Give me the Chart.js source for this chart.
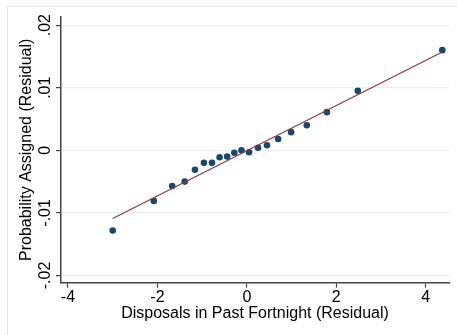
<!DOCTYPE html>
<html lang="en">
<head>
  <meta charset="UTF-8">
  <title>Disposals vs Probability Assigned</title>
  <script src="https://cdn.jsdelivr.net/npm/chart.js"></script>
  <style>
    html, body { margin: 0; padding: 0; background: #fff; }
  </style>
</head>
<body>
  <canvas id="residChart" width="457" height="335"></canvas>

  <script>
    // binned residuals
    const disposalsResid = [-3.00, -2.08, -1.67, -1.39, -1.16, -0.96, -0.78, -0.61, -0.44, -0.28,
                            -0.12, 0.05, 0.25, 0.45, 0.70, 0.99, 1.34, 1.79, 2.48, 4.37];
    const probResid = [-0.0128, -0.0081, -0.0057, -0.0050, -0.0031, -0.0020, -0.0020, -0.0011, -0.0010, -0.0004,
                       0.0000, -0.0003, 0.0004, 0.0008, 0.0018, 0.0029, 0.0040, 0.0061, 0.0095, 0.0160];
    // fitted line end points
    const fitX = [-3.00, 4.37];
    const fitY = [-0.0109, 0.0157];
    const xTicks = [-4, -2, 0, 2, 4];
    const yTicks = [-0.02, -0.01, 0, 0.01, 0.02];
    const yTickLabels = ['-.02', '-.01', '0', '.01', '.02'];

    const FONT = "'Liberation Sans', Arial, sans-serif";

    // stata draws y labels turned on their side
    const rotatedYLabels = {
      id: 'rotatedYLabels',
      afterDraw(chart) {
        const ctx = chart.ctx;
        const y = chart.scales.y;
        ctx.save();
        ctx.fillStyle = '#000';
        ctx.font = '16px ' + FONT;
        ctx.textAlign = 'center';
        ctx.textBaseline = 'middle';
        yTicks.forEach((v, i) => {
          ctx.save();
          ctx.translate(45.5, y.getPixelForValue(v));
          ctx.rotate(-Math.PI / 2);
          ctx.fillText(yTickLabels[i], 0, 0);
          ctx.restore();
        });
        ctx.restore();
      },
      beforeDraw(chart) {
        // faint graph region outline
        const ctx = chart.ctx;
        ctx.save();
        ctx.strokeStyle = '#e4ebee';
        ctx.lineWidth = 1;
        ctx.beginPath();
        ctx.moveTo(7.5, 335);
        ctx.lineTo(7.5, 6.5);
        ctx.lineTo(457, 6.5);
        ctx.stroke();
        ctx.restore();
      }
    };

    new Chart(document.getElementById('residChart'), {
      type: 'scatter',
      data: {
        datasets: [
          {
            type: 'line',
            data: fitX.map((x, i) => ({ x: x, y: fitY[i] })),
            borderColor: '#90353b',
            borderWidth: 1.2,
            pointRadius: 0,
            fill: false
          },
          {
            data: disposalsResid.map((x, i) => ({ x: x, y: probResid[i] })),
            backgroundColor: '#1a476f',
            borderColor: '#1a476f',
            pointRadius: 3.3,
            pointBorderWidth: 0
          }
        ]
      },
      options: {
        responsive: false,
        animation: false,
        devicePixelRatio: 1,
        layout: { padding: { top: 17, right: 8, left: 0, bottom: 0 } },
        plugins: { legend: { display: false }, tooltip: { enabled: false } },
        scales: {
          x: {
            type: 'linear',
            min: -4.156,
            max: 4.52,
            afterBuildTicks: s => { s.ticks = xTicks.map(v => ({ value: v })); },
            afterFit: s => { s.height = 52.3; },
            border: { color: '#444', width: 1.5 },
            grid: { drawOnChartArea: false, tickLength: 5, tickColor: '#444', tickWidth: 1.2 },
            ticks: {
              color: '#000',
              font: { family: FONT, size: 16 },
              padding: 0,
              maxRotation: 0,
              callback: v => String(v)
            },
            title: {
              display: true,
              text: 'Disposals in Past Fortnight (Residual)',
              color: '#000',
              font: { family: FONT, size: 16 },
              padding: { top: 0, bottom: 12 }
            }
          },
          y: {
            type: 'linear',
            min: -0.02115,
            max: 0.0213,
            afterBuildTicks: s => { s.ticks = yTicks.map(v => ({ value: v })); },
            afterFit: s => { s.width = 61; },
            border: { color: '#444', width: 1.5 },
            grid: { color: '#eaf0f1', lineWidth: 1.2, tickLength: 5, tickColor: '#444', tickWidth: 1.2 },
            ticks: { display: false },
            title: {
              display: true,
              text: 'Probability Assigned (Residual)',
              color: '#000',
              font: { family: FONT, size: 16 },
              padding: { top: 17, bottom: 0 }
            }
          }
        }
      },
      plugins: [rotatedYLabels]
    });
  </script>
</body>
</html>
